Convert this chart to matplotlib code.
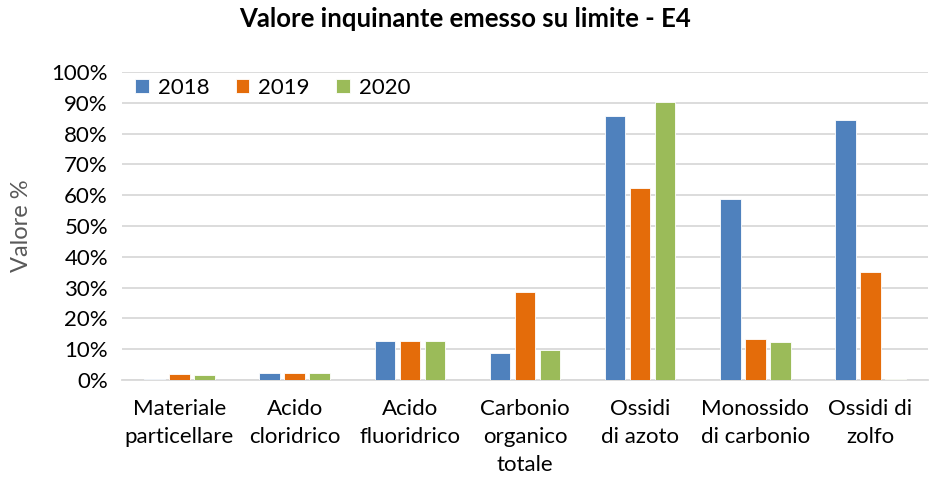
import numpy as np
import matplotlib
matplotlib.use("Agg")
import matplotlib.pyplot as plt
from matplotlib.ticker import PercentFormatter

plt.rcParams['font.family'] = ['Lato', 'DejaVu Sans']

categorie = ["Materiale\nparticellare", "Acido\ncloridrico", "Acido\nfluoridrico",
             "Carbonio\norganico\ntotale", "Ossidi\ndi azoto", "Monossido\ndi carbonio",
             "Ossidi di\nzolfo"]
anni = ["2018", "2019", "2020"]
v2018 = [0.3, 2.4, 12.6, 8.7, 85.7, 58.9, 84.3]
v2019 = [1.8, 2.4, 12.6, 28.6, 62.2, 13.4, 35.1]
v2020 = [1.6, 2.4, 12.6, 9.8, 90.2, 12.2, 0.2]
colori = ['#4F81BD', '#E46C0A', '#9BBB59']

fig = plt.figure(figsize=(9.3, 4.84), dpi=100)
ax = fig.add_axes([0.131, 0.215, 0.867, 0.636])

x = np.arange(len(categorie))
w = 0.178
for i, (serie, nome) in enumerate(zip([v2018, v2019, v2020], anni)):
    ax.bar(x + (i - 1) * 0.217, serie, width=w, color=colori[i],
           edgecolor='white', linewidth=0.6, label=nome, zorder=3)

ax.set_ylim(0, 100)
ax.set_xlim(-0.5, len(categorie) - 0.5)
ax.set_yticks(np.arange(0, 101, 10))
ax.yaxis.set_major_formatter(PercentFormatter(decimals=0))
ax.grid(axis='y', color='#D9D9D9', linewidth=1.3, zorder=0)
for s in ['top', 'right', 'left']:
    ax.spines[s].set_visible(False)
ax.spines['bottom'].set_color('#D9D9D9')
ax.spines['bottom'].set_linewidth(1.3)
ax.tick_params(axis='both', length=0, labelsize=16, colors='#000000')
ax.tick_params(axis='y', pad=10)
ax.tick_params(axis='x', pad=14)
ax.set_xticks(x)
ax.set_xticklabels(categorie, linespacing=1.5)
ax.set_ylabel("Valore %", fontsize=17, color='#595959', labelpad=14)

ax.legend(loc='upper left', bbox_to_anchor=(-0.008, 1.045), ncol=3, frameon=False,
          fontsize=16, handlelength=0.6, handleheight=0.6, handletextpad=0.4,
          columnspacing=1.2)

fig.suptitle("Valore inquinante emesso su limite - E4", fontsize=18.5,
             fontweight='bold', y=0.985)

fig.savefig("out.png", dpi=100)
